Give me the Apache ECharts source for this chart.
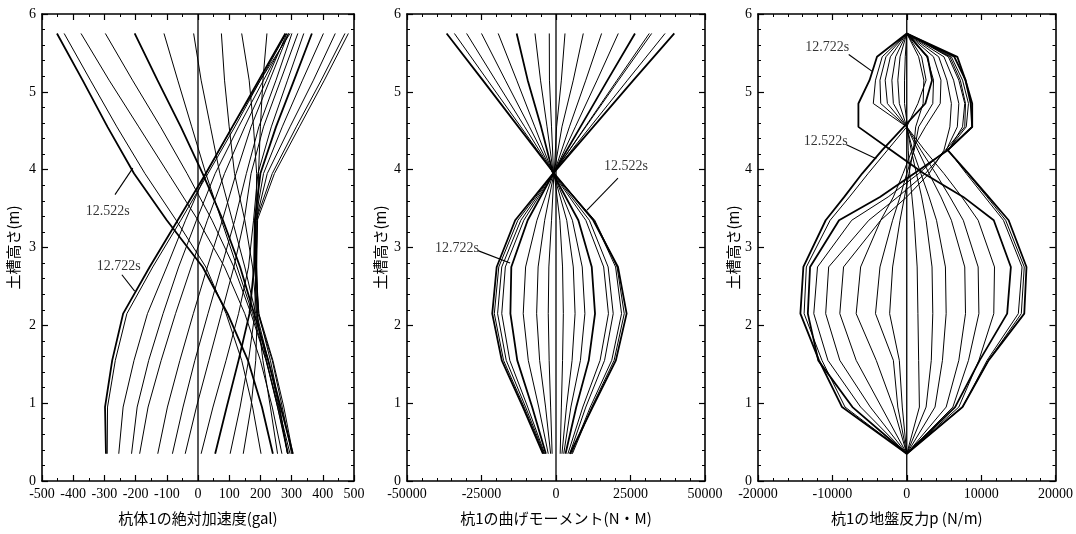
<!DOCTYPE html>
<html>
<head>
<meta charset="utf-8">
<script src="https://cdn.jsdelivr.net/npm/echarts@6/dist/echarts.min.js"></script>
<style>
html,body{margin:0;padding:0;background:#fff;}
#chart{width:1076px;height:534px;}
</style>
</head>
<body>
<div id="chart"></div>
<script>
// Node heights of the pile (m) for acceleration and bending moment profiles
const pileHeights = [0.35, 0.95, 1.55, 2.15, 2.75, 3.35, 3.95, 4.55, 5.15, 5.75];
// Node heights for the subgrade reaction profiles (finer near the top)
const reactionHeights = [0.35, 0.95, 1.55, 2.15, 2.75, 3.35, 3.65, 3.95, 4.25, 4.55, 4.85, 5.15, 5.45, 5.75];

// Absolute acceleration of pile 1 (gal), one profile per time step, values bottom -> top
const accelProfiles = [
  [240, 205, 160, 95, 15, -100, -205, -290, -370, -452],      // 12.522s
  [202, 175, 140, 90, 25, -70, -170, -260, -345, -429],
  [269, 238, 200, 150, 85, 0, -95, -190, -285, -375],
  [287, 255, 218, 170, 115, 45, -35, -120, -210, -297],
  [304, 265, 225, 180, 135, 80, 15, -55, -130, -203],
  [295, 258, 218, 175, 125, 75, 25, -20, -65, -109],
  [290, 255, 220, 185, 150, 110, 70, 40, 10, -14],
  [287, 260, 225, 188, 175, 150, 117, 100, 85, 75],
  [304, 275, 240, 195, 184, 186, 188, 178, 164, 140],
  [300, 270, 238, 192, 188, 191, 194, 200, 208, 221],
  [287, 262, 232, 195, 186, 190, 245, 325, 405, 482],
  [255, 232, 208, 190, 182, 186, 238, 315, 395, 471],
  [145, 170, 185, 190, 188, 186, 222, 295, 370, 440],
  [103, 135, 162, 182, 186, 184, 210, 270, 335, 402],
  [55, 92, 130, 165, 180, 182, 200, 250, 308, 365],
  [10, 48, 90, 130, 162, 178, 192, 235, 287, 339],
  [-41, -5, 35, 75, 115, 148, 170, 210, 265, 320],
  [-82, -48, -10, 32, 75, 118, 155, 195, 250, 301],
  [-129, -98, -58, -15, 30, 78, 122, 170, 230, 290],
  [-187, -160, -118, -72, -22, 30, 85, 150, 220, 285],
  [-213, -195, -158, -112, -62, -5, 55, 130, 210, 290],
  [-254, -240, -205, -162, -100, -40, 25, 110, 200, 295],
  [-291, -290, -265, -228, -145, -55, 32, 118, 200, 283],
  [-295, -298, -275, -240, -155, -65, 25, 110, 195, 280]      // 12.722s
];

// Bending moment of pile 1 (N·m), values bottom -> top
const momentProfiles = [
  [4700, 12300, 20100, 23700, 20800, 12500, -600, -12600, -24600, -36700],   // 12.522s
  [5500, 12000, 19500, 22900, 20500, 13000, -700, -11800, -23000, -34100],
  [5200, 11500, 18700, 22000, 20000, 12800, -800, -10500, -20300, -30000],
  [4600, 10000, 16300, 19200, 17500, 11200, -900, -8900, -17000, -25000],
  [4000, 9000, 14800, 17600, 16000, 10000, -1000, -7100, -13200, -19400],
  [3200, 6800, 11000, 13100, 12000, 7500, -1000, -5000, -9500, -13200],
  [2600, 5000, 8200, 9700, 8800, 5500, -900, -3000, -5200, -7050],
  [2000, 3500, 5400, 6400, 5800, 3600, -800, -1500, -2200, -2250],
  [1400, 1800, 2200, 2460, 2200, 1300, -600, 200, 1800, 3020],
  [-1300, -1800, -2300, -2600, -2400, -1500, -700, 2000, 5800, 9160],
  [-1800, -3500, -5500, -6500, -6000, -3800, -700, 4500, 10000, 15300],
  [-2600, -5800, -9300, -11000, -10200, -6400, -800, 6500, 13800, 20900],
  [-3400, -8000, -13000, -15300, -15000, -9500, -900, 8200, 17300, 26500],   // 12.722s
  [-3800, -9500, -15500, -18200, -17000, -10800, -900, 9800, 20500, 31300],
  [-4000, -10200, -16700, -19600, -18200, -11800, -1000, 10000, 21000, 32100],
  [-4200, -10700, -17600, -20700, -19200, -12800, -1000, 11500, 24000, 36600],
  [-4400, -11100, -18200, -21400, -19900, -13700, -1000, 12500, 26000, 39700]
];

// Subgrade reaction p of pile 1 (N/m), values bottom -> top
const reactionProfiles = [
  [0, -8700, -11800, -14300, -13900, -10900, -8400, -6000, -3300, -400, 2500, 3400, 2800, 0],   // 12.522s
  [0, -8300, -11400, -13800, -13500, -10300, -7700, -5200, -2600, 0, 1500, 2600, 2000, 0],
  [0, -7300, -11900, -13300, -13000, -9100, -3600, 1000, 5500, 8800, 8800, 7900, 6400, 0],
  [0, -6200, -10600, -12500, -12000, -7400, -2500, 1600, 5200, 7800, 7900, 7200, 5800, 0],
  [0, -4900, -9000, -10900, -10500, -5100, -1200, 2500, 5300, 6800, 7000, 6300, 5000, 0],
  [0, -3400, -6800, -9000, -8500, -3500, 0, 3000, 5000, 5800, 6000, 5400, 4300, 0],
  [0, -1800, -4100, -6800, -6200, -3500, -1800, -500, 700, 2500, 4500, 4600, 3600, 0],
  [0, -1200, -1800, -4200, -3600, -1900, -900, 0, 1000, 1600, 3500, 3600, 2700, 0],
  [0, -600, -1000, -2300, -1900, -900, -300, 300, 900, 1200, 2200, 2300, 1600, 0],
  [0, 1700, 1600, 1500, 1400, 1000, 700, 400, 200, 100, -300, -300, -200, 0],
  [0, 2600, 3300, 3500, 3400, 2600, 2000, 1300, 600, 0, -1000, -1200, -900, 0],
  [0, 3800, 4800, 5300, 5200, 4000, 3000, 1900, 800, 0, -1800, -2000, -1500, 0],
  [0, 5300, 7000, 7900, 7800, 6000, 4600, 3000, 1500, 0, -2600, -2900, -2200, 0],
  [0, 6200, 8300, 9700, 9600, 7600, 5800, 3900, 1900, 0, -3500, -3600, -2800, 0],
  [0, 7000, 9700, 11700, 11800, 9600, 7400, 5000, 2400, 0, -4500, -4200, -3300, 0],
  [0, 7500, 10800, 15000, 15500, 13000, 10500, 8000, 5600, 7500, 7800, 7000, 5600, 0],
  [0, 7500, 11000, 15400, 15800, 13300, 10800, 8200, 5500, 8000, 8300, 7500, 6000, 0],
  [0, 7500, 11000, 15800, 16100, 13700, 11000, 8300, 5500, 8800, 8600, 7900, 6800, 0],
  [0, 6500, 9800, 13500, 14000, 11700, 7600, 2300, -2100, -6500, -6500, -5000, -4000, 0]       // 12.722s
];

// Axis titles
const heightTitle = '土槽高さ(m)';
const accelTitle = '杭体1の絶対加速度(gal)';
const momentTitle = '杭1の曲げモーメント(N・M)';
const reactionTitle = '杭1の地盤反力p (N/m)';

// Time-step callouts: label anchor, arrow start and arrow tip in data units
const accelNotes = [
  { text: '12.522s', at: [-289, 3.47], from: [-266, 3.68], to: [-209, 4.02] },
  { text: '12.722s', at: [-254, 2.76], from: [-244, 2.65], to: [-203, 2.44] }
];
const momentNotes = [
  { text: '12.522s', at: [23500, 4.04], from: [20800, 3.89], to: [10400, 3.48] },
  { text: '12.722s', at: [-33200, 2.99], from: [-26200, 2.96], to: [-15400, 2.80] }
];
const reactionNotes = [
  { text: '12.722s', at: [-10700, 5.57], from: [-7800, 5.48], to: [-4600, 5.26] },
  { text: '12.522s', at: [-10900, 4.36], from: [-8100, 4.32], to: [-4100, 4.14] }
];

const NUM_FONT = '"Liberation Serif", "DejaVu Serif", serif';
const JP_FONT = '"Noto Sans CJK JP", "Noto Sans", sans-serif';

const panels = [
  { grid: { left: 42, top: 14, width: 312, height: 467 }, min: -500, max: 500, interval: 100, minor: 2,
    title: accelTitle, heights: pileHeights, profiles: accelProfiles, thick: [0, 4, 14, 23], notes: accelNotes, yGap: 21 },
  { grid: { left: 407, top: 14, width: 298, height: 467 }, min: -50000, max: 50000, interval: 25000, minor: 5,
    title: momentTitle, heights: pileHeights, profiles: momentProfiles, thick: [0, 12, 16, 5], notes: momentNotes, yGap: 19 },
  { grid: { left: 758, top: 14, width: 301, height: 467 }, min: -20000, max: 20000, interval: 10000, minor: 5,
    title: reactionTitle, heights: reactionHeights, profiles: reactionProfiles, thick: [0, 2, 18, 17], notes: reactionNotes, yGap: 17 }
];

const frameLine = { show: true, onZero: false, lineStyle: { color: '#000', width: 1.6 } };
const tick = { show: true, inside: true, length: 6, lineStyle: { color: '#000', width: 1.2 } };

const grids = [], xAxes = [], yAxes = [], series = [];

panels.forEach((p, i) => {
  grids.push(Object.assign({ containLabel: false }, p.grid));
  const minorX = { show: true, splitNumber: p.minor, length: 3, lineStyle: { color: '#000', width: 1 } };
  const minorY = { show: true, splitNumber: 5, length: 3, lineStyle: { color: '#000', width: 1 } };
  // bottom and mirrored top x axes
  xAxes.push({
    type: 'value', gridIndex: i, position: 'bottom', min: p.min, max: p.max, interval: p.interval,
    axisLine: frameLine, axisTick: tick, minorTick: minorX, splitLine: { show: false }, minorSplitLine: { show: false },
    axisLabel: { formatter: v => String(v), fontFamily: NUM_FONT, fontSize: 14, color: '#000', margin: 6 },
    name: p.title, nameLocation: 'middle', nameGap: 30,
    nameTextStyle: { fontFamily: JP_FONT, fontSize: 15, color: '#000' }
  });
  xAxes.push({
    type: 'value', gridIndex: i, position: 'top', min: p.min, max: p.max, interval: p.interval,
    axisLine: frameLine, axisTick: tick, minorTick: minorX, splitLine: { show: false },
    axisLabel: { show: false }
  });
  // left and mirrored right y axes
  yAxes.push({
    type: 'value', gridIndex: i, position: 'left', min: 0, max: 6, interval: 1,
    axisLine: frameLine, axisTick: tick, minorTick: minorY, splitLine: { show: false },
    axisLabel: { fontFamily: NUM_FONT, fontSize: 14, color: '#000', margin: 6 },
    name: heightTitle, nameLocation: 'middle', nameGap: p.yGap,
    nameTextStyle: { fontFamily: JP_FONT, fontSize: 15, color: '#000' }
  });
  yAxes.push({
    type: 'value', gridIndex: i, position: 'right', min: 0, max: 6, interval: 1,
    axisLine: frameLine, axisTick: tick, minorTick: minorY, splitLine: { show: false },
    axisLabel: { show: false }
  });

  // profile lines
  p.profiles.forEach((vals, k) => {
    series.push({
      type: 'line', xAxisIndex: 2 * i, yAxisIndex: 2 * i, silent: true, animation: false,
      symbol: 'none', z: 3,
      lineStyle: { color: '#000', width: p.thick.includes(k) ? 1.8 : 1 },
      data: p.heights.map((h, j) => [vals[j], h])
    });
  });

  // zero reference line with callout arrows
  series.push({
    type: 'line', xAxisIndex: 2 * i, yAxisIndex: 2 * i, silent: true, animation: false,
    symbol: 'none', z: 4, lineStyle: { color: '#000', width: 1.3 },
    data: [[0, 0], [0, 6]],
    markLine: {
      silent: true, animation: false, symbol: ['none', 'arrow'], symbolSize: [0, 8],
      label: { show: false }, lineStyle: { color: '#000', width: 1.1, type: 'solid' },
      data: p.notes.map(n => [{ coord: n.from }, { coord: n.to }])
    }
  });

  // callout text
  series.push({
    type: 'scatter', xAxisIndex: 2 * i, yAxisIndex: 2 * i, silent: true, animation: false,
    symbolSize: 0, z: 5,
    data: p.notes.map(n => ({ value: n.at, name: n.text })),
    label: { show: true, position: 'inside', formatter: '{b}', fontFamily: NUM_FONT, fontSize: 14, color: '#000' }
  });
});

const chart = echarts.init(document.getElementById('chart'), null, { renderer: 'canvas' });
chart.setOption({
  backgroundColor: '#fff',
  animation: false,
  grid: grids,
  xAxis: xAxes,
  yAxis: yAxes,
  series: series
});
</script>
</body>
</html>
